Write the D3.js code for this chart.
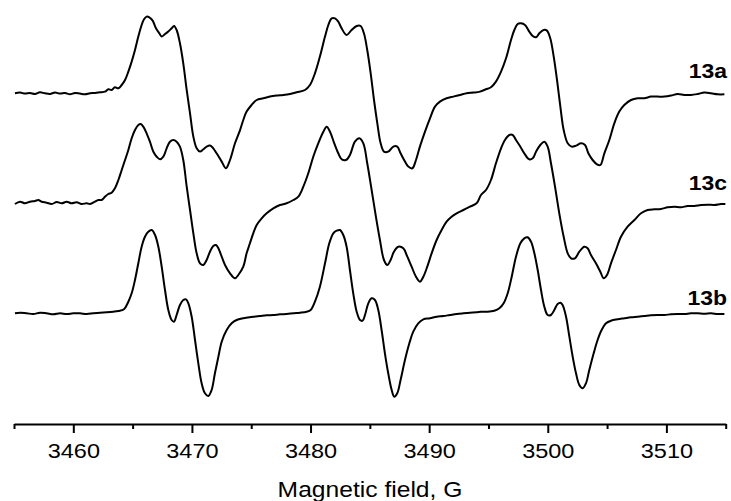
<!DOCTYPE html>
<html>
<head>
<meta charset="utf-8">
<script src="https://cdn.jsdelivr.net/npm/d3@7"></script>
<style>
  html, body { margin: 0; padding: 0; background: #fff; }
  svg { display: block; }
  text { font-family: "Liberation Sans", Arial, Helvetica, sans-serif; fill: #000; }
</style>
</head>
<body>
<svg id="chart" width="731" height="501"></svg>
<script>
// ---- Data (field in G, signal in arbitrary units) ----
const seriesNames = ["13a", "13c", "13b"];

const trace13a = [
[3455.08,0],[3455.51,0.7],[3455.93,-0.3],[3456.35,0.3],[3456.77,-0.7],[3457.19,1.0],[3457.61,0],[3458.03,-0.7],
[3458.46,0.7],[3458.88,-0.3],[3459.30,0.3],[3459.72,-1.0],[3460.14,0.3],[3460.56,-0.3],[3460.99,-1.0],[3461.41,0],
[3461.83,0.3],[3462.25,1.0],[3462.67,1.7],[3462.95,4.0],[3463.23,3.3],[3463.51,6.0],[3463.80,5.0],[3464.08,8.3],
[3464.36,13.3],[3464.64,21.7],[3464.92,31.7],[3465.20,43.3],[3465.48,56.7],[3465.76,68.3],[3465.96,74.0],[3466.18,76.7],
[3466.41,76.0],[3466.69,72.7],[3466.97,65.0],[3467.25,60.0],[3467.45,56.7],[3467.73,59.3],[3468.01,61.7],[3468.29,65.0],
[3468.49,67.3],[3468.71,63.3],[3468.99,50.0],[3469.27,30.0],[3469.56,3.3],[3469.84,-20.0],[3470.12,-43.3],[3470.40,-55.0],
[3470.68,-58.3],[3470.96,-56.0],[3471.24,-53.3],[3471.52,-52.3],[3471.80,-55.0],[3472.08,-60.0],[3472.51,-68.3],[3472.87,-75.0],
[3473.21,-66.7],[3473.63,-50.0],[3474.05,-37.0],[3474.33,-26.7],[3474.61,-18.3],[3475.03,-11.7],[3475.46,-6.7],[3476.02,-5.0],
[3476.58,-3.3],[3477.14,-2.3],[3477.70,-1.7],[3478.27,-0.7],[3478.83,1.0],[3479.53,3.3],[3479.95,8.3],[3480.37,20.0],
[3480.79,36.7],[3481.22,56.7],[3481.50,68.3],[3481.78,75.0],[3482.06,75.0],[3482.34,71.7],[3482.62,65.0],[3483.04,58.3],
[3483.46,63.3],[3483.89,67.3],[3484.22,67.3],[3484.50,60.0],[3484.78,43.3],[3485.07,20.0],[3485.35,-6.7],[3485.63,-30.0],
[3485.91,-50.0],[3486.19,-58.3],[3486.55,-58.3],[3486.98,-53.3],[3487.31,-53.3],[3487.59,-60.0],[3487.96,-68.3],[3488.24,-73.3],
[3488.58,-75.0],[3488.89,-66.7],[3489.22,-53.3],[3489.65,-38.3],[3490.07,-25.0],[3490.49,-13.3],[3490.91,-8.3],[3491.47,-5.0],
[3492.03,-3.3],[3492.60,-1.7],[3493.16,0],[3493.72,0.7],[3494.28,1.7],[3494.79,4.0],[3495.21,6.0],[3495.63,11.7],
[3496.06,21.7],[3496.48,35.0],[3496.90,53.3],[3497.18,63.3],[3497.46,69.3],[3497.74,70.0],[3498.08,68.3],[3498.44,61.7],
[3498.73,57.3],[3499.01,56.0],[3499.29,60.0],[3499.65,63.3],[3499.93,62.7],[3500.21,55.0],[3500.50,36.7],[3500.78,13.3],
[3501.06,-13.3],[3501.34,-36.7],[3501.68,-50.0],[3502.01,-53.3],[3502.38,-52.3],[3502.80,-50.0],[3503.14,-51.7],[3503.42,-60.0],
[3503.78,-66.7],[3504.15,-71.0],[3504.43,-71.7],[3504.77,-60.0],[3505.19,-46.7],[3505.61,-30.0],[3506.03,-18.3],[3506.45,-11.7],
[3507.02,-6.7],[3507.58,-5.0],[3508.14,-5.0],[3508.70,-3.3],[3509.26,-3.3],[3509.83,-3.3],[3510.39,-2.3],[3510.95,-0.7],
[3511.51,-1.7],[3512.07,-1.7],[3512.64,-0.7],[3513.20,0.7],[3513.76,0],[3514.32,-1.0],[3514.89,-1.0]
];

const trace13c = [
[3455.08,0],[3455.51,2.3],[3455.93,0.7],[3456.35,2.3],[3456.77,3.0],[3457.05,4.0],[3457.33,2.3],[3457.75,1.3],
[3458.18,0],[3458.60,2.0],[3459.02,0.7],[3459.44,2.3],[3459.86,0.7],[3460.28,1.7],[3460.70,0],[3461.13,0.7],
[3461.41,0],[3461.83,2.3],[3462.11,4.0],[3462.39,4.0],[3462.67,7.3],[3462.95,10.0],[3463.23,11.3],[3463.51,15.7],
[3463.80,24.0],[3464.08,34.0],[3464.36,44.0],[3464.64,54.0],[3464.92,65.7],[3465.20,74.0],[3465.48,79.0],[3465.68,80.0],
[3465.90,77.3],[3466.18,70.7],[3466.46,62.3],[3466.75,52.3],[3467.03,47.3],[3467.31,44.7],[3467.59,47.3],[3467.87,55.7],
[3468.15,62.3],[3468.43,64.0],[3468.71,62.3],[3468.99,57.3],[3469.27,44.0],[3469.56,17.3],[3469.84,-6.0],[3470.12,-29.3],
[3470.40,-49.3],[3470.68,-59.3],[3470.96,-61.0],[3471.24,-56.0],[3471.52,-47.7],[3471.80,-42.0],[3472.03,-41.0],[3472.23,-44.3],
[3472.51,-52.7],[3472.79,-61.0],[3473.21,-69.3],[3473.63,-74.3],[3473.91,-71.0],[3474.33,-62.7],[3474.61,-49.3],[3474.89,-39.3],
[3475.17,-29.3],[3475.46,-21.0],[3475.88,-14.3],[3476.30,-9.3],[3476.86,-4.3],[3477.42,-1.0],[3477.98,0.7],[3478.55,4.0],
[3478.97,7.3],[3479.39,17.3],[3479.81,30.7],[3480.23,47.3],[3480.65,60.7],[3481.08,72.3],[3481.36,77.3],[3481.64,72.3],
[3482.00,60.7],[3482.34,50.7],[3482.62,44.7],[3482.99,44.0],[3483.32,49.0],[3483.74,62.3],[3484.11,65.7],[3484.45,60.7],
[3484.78,40.7],[3485.15,14.0],[3485.51,-12.7],[3485.85,-36.0],[3486.19,-56.0],[3486.47,-61.0],[3486.75,-56.0],[3487.03,-47.7],
[3487.40,-42.7],[3487.82,-44.3],[3488.16,-52.7],[3488.52,-62.7],[3488.89,-72.7],[3489.22,-77.7],[3489.51,-72.7],[3489.84,-62.7],
[3490.21,-49.3],[3490.63,-36.0],[3491.05,-26.0],[3491.47,-17.7],[3491.89,-12.7],[3492.32,-9.3],[3492.88,-6.0],[3493.44,-2.7],
[3494.00,0.7],[3494.37,9.0],[3494.79,14.0],[3495.21,24.0],[3495.63,40.7],[3496.06,55.7],[3496.39,64.0],[3496.76,69.0],
[3497.04,69.0],[3497.32,64.0],[3497.69,57.3],[3498.02,50.7],[3498.44,44.7],[3498.73,45.7],[3499.01,52.3],[3499.37,59.0],
[3499.71,62.3],[3499.99,57.3],[3500.27,40.7],[3500.61,17.3],[3500.97,-9.3],[3501.34,-32.7],[3501.68,-49.3],[3501.96,-54.3],
[3502.29,-54.3],[3502.66,-47.7],[3503.08,-42.7],[3503.36,-44.3],[3503.64,-51.0],[3504.06,-59.3],[3504.43,-67.7],[3504.71,-74.3],
[3504.99,-71.0],[3505.33,-59.3],[3505.75,-46.0],[3506.17,-32.7],[3506.73,-22.7],[3507.30,-16.0],[3507.86,-9.3],[3508.42,-6.0],
[3508.98,-5.3],[3509.54,-5.0],[3510.11,-3.3],[3510.67,-2.7],[3511.23,-3.3],[3511.79,-2.0],[3512.35,-2.0],[3512.92,-1.0],
[3513.48,-0.7],[3514.04,-1.0],[3514.60,0],[3514.97,0]
];

const trace13b = [
[3455.08,0.7],[3455.51,1.3],[3456.07,0.7],[3456.63,0],[3457.19,1.3],[3457.75,0.7],[3458.32,-0.3],[3458.88,0.7],
[3459.44,0],[3460.00,0.7],[3460.56,0.7],[3461.13,0],[3461.69,0.7],[3462.25,1.3],[3462.81,1.7],[3463.37,2.3],
[3463.80,3.0],[3464.27,4.7],[3464.64,12.3],[3464.92,20.7],[3465.20,34.0],[3465.48,50.7],[3465.76,67.3],[3466.04,77.3],
[3466.32,82.3],[3466.61,84.0],[3466.89,79.0],[3467.17,67.3],[3467.45,47.3],[3467.73,24.0],[3468.01,4.0],[3468.29,-6.0],
[3468.49,-7.7],[3468.71,-1.0],[3468.99,9.0],[3469.27,14.0],[3469.50,14.7],[3469.70,10.7],[3469.98,-2.7],[3470.26,-26.0],
[3470.54,-49.3],[3470.82,-69.3],[3471.10,-79.3],[3471.38,-82.0],[3471.66,-76.0],[3471.94,-59.3],[3472.23,-42.7],[3472.51,-27.7],
[3472.93,-16.0],[3473.35,-9.3],[3473.77,-6.0],[3474.33,-4.3],[3475.17,-2.7],[3475.74,-2.0],[3476.30,-1.3],[3476.86,-1.0],
[3477.42,-0.3],[3477.98,0],[3478.55,0.7],[3479.11,1.3],[3479.67,2.3],[3480.01,4.0],[3480.37,12.3],[3480.79,27.3],
[3481.22,50.7],[3481.58,70.7],[3481.92,80.7],[3482.20,83.3],[3482.48,84.0],[3482.76,79.0],[3483.04,67.3],[3483.32,44.0],
[3483.60,20.7],[3483.89,2.3],[3484.17,-6.0],[3484.39,-6.7],[3484.59,-1.0],[3484.87,10.7],[3485.15,15.7],[3485.43,14.0],
[3485.71,4.0],[3485.99,-16.0],[3486.27,-39.3],[3486.55,-59.3],[3486.84,-76.0],[3487.06,-82.7],[3487.31,-79.3],[3487.59,-66.0],
[3487.96,-46.0],[3488.33,-29.3],[3488.66,-17.7],[3489.08,-9.3],[3489.51,-5.3],[3490.07,-4.3],[3490.63,-2.7],[3491.19,-2.0],
[3491.75,-1.0],[3492.32,0],[3492.88,0.7],[3493.44,1.3],[3494.00,1.7],[3494.37,2.3],[3494.93,2.3],[3495.49,3.3],
[3495.92,5.7],[3496.28,10.7],[3496.62,20.7],[3496.96,37.3],[3497.32,57.3],[3497.69,70.7],[3498.02,75.7],[3498.30,76.7],
[3498.59,72.3],[3498.87,60.7],[3499.15,44.0],[3499.43,24.0],[3499.71,7.3],[3499.99,-1.0],[3500.27,-1.0],[3500.55,4.0],
[3500.83,10.0],[3501.06,11.3],[3501.25,9.0],[3501.54,-2.7],[3501.82,-22.7],[3502.10,-42.7],[3502.38,-59.3],[3502.66,-71.0],
[3502.94,-74.3],[3503.22,-69.3],[3503.50,-56.0],[3503.87,-39.3],[3504.20,-26.0],[3504.54,-16.0],[3504.91,-9.3],[3505.33,-6.7],
[3505.89,-5.3],[3506.45,-4.3],[3507.02,-3.3],[3507.58,-2.7],[3508.14,-2.0],[3508.70,-1.3],[3509.26,-1.0],[3509.83,-1.0],
[3510.39,-0.3],[3510.95,0],[3511.51,0],[3512.07,0.7],[3512.64,0.7],[3513.20,0.3],[3513.76,0.7],[3514.32,0],[3514.89,0]
];

const majorTicks = [3460, 3470, 3480, 3490, 3500, 3510];
const minorTicks = [3455, 3465, 3475, 3485, 3495, 3505, 3515];
const xTitle = "Magnetic field, G";

// ---- Layout ----
const svg = d3.select("#chart");
const axisY = 424;
const textStretch = 1.12;   // reference text is slightly wide
const x = d3.scaleLinear().domain([3455, 3515]).range([14, 725.7]);
const y = d3.scaleLinear().domain([-330.7, 93.3]).range([axisY, 0]);
const stackShift = [0, -110.7, -220.7];   // vertical stacking of the traces
const traces = [trace13a, trace13c, trace13b];

const line = d3.line()
  .x(d => x(d[0]))
  .y(d => y(d[1]))
  .curve(d3.curveCatmullRom.alpha(0.5));

traces.forEach((tr, i) => {
  svg.append("path")
    .datum(tr.map(d => [d[0], d[1] + stackShift[i]]))
    .attr("fill", "none")
    .attr("stroke", "#000")
    .attr("stroke-width", 2)
    .attr("stroke-linejoin", "round")
    .attr("d", line);
});

// Series labels
const labelBase = [78, 190, 305];
seriesNames.forEach((n, i) => {
  svg.append("g")
    .attr("transform", `translate(727,${labelBase[i]})`)
    .append("text")
    .attr("transform", `scale(${textStretch},1)`)
    .attr("text-anchor", "end")
    .attr("font-weight", "bold")
    .attr("font-size", 20.5)
    .text(n);
});

// Axis
const gAxis = svg.append("g").attr("transform", `translate(0,${axisY})`);
gAxis.call(d3.axisBottom(x).tickValues(majorTicks).tickSize(9).tickSizeOuter(0)
  .tickPadding(10).tickFormat(d3.format("d")));
const gMinor = svg.append("g").attr("transform", `translate(0,${axisY})`);
gMinor.call(d3.axisBottom(x).tickValues(minorTicks).tickSize(5).tickSizeOuter(0).tickFormat(""));
gMinor.select(".domain").remove();
svg.selectAll(".domain").attr("stroke", "#000").attr("stroke-width", 2);
svg.selectAll(".tick line").attr("stroke", "#000").attr("stroke-width", 2);
gAxis.selectAll(".tick text")
  .attr("font-size", 21)
  .attr("font-family", "'Liberation Sans', Arial, sans-serif")
  .attr("fill", "#000")
  .attr("transform", `scale(${textStretch},1)`);

svg.append("g")
  .attr("transform", "translate(370,497)")
  .append("text")
  .attr("transform", `scale(${textStretch},1)`)
  .attr("text-anchor", "middle")
  .attr("font-size", 22)
  .text(xTitle);
</script>
</body>
</html>
